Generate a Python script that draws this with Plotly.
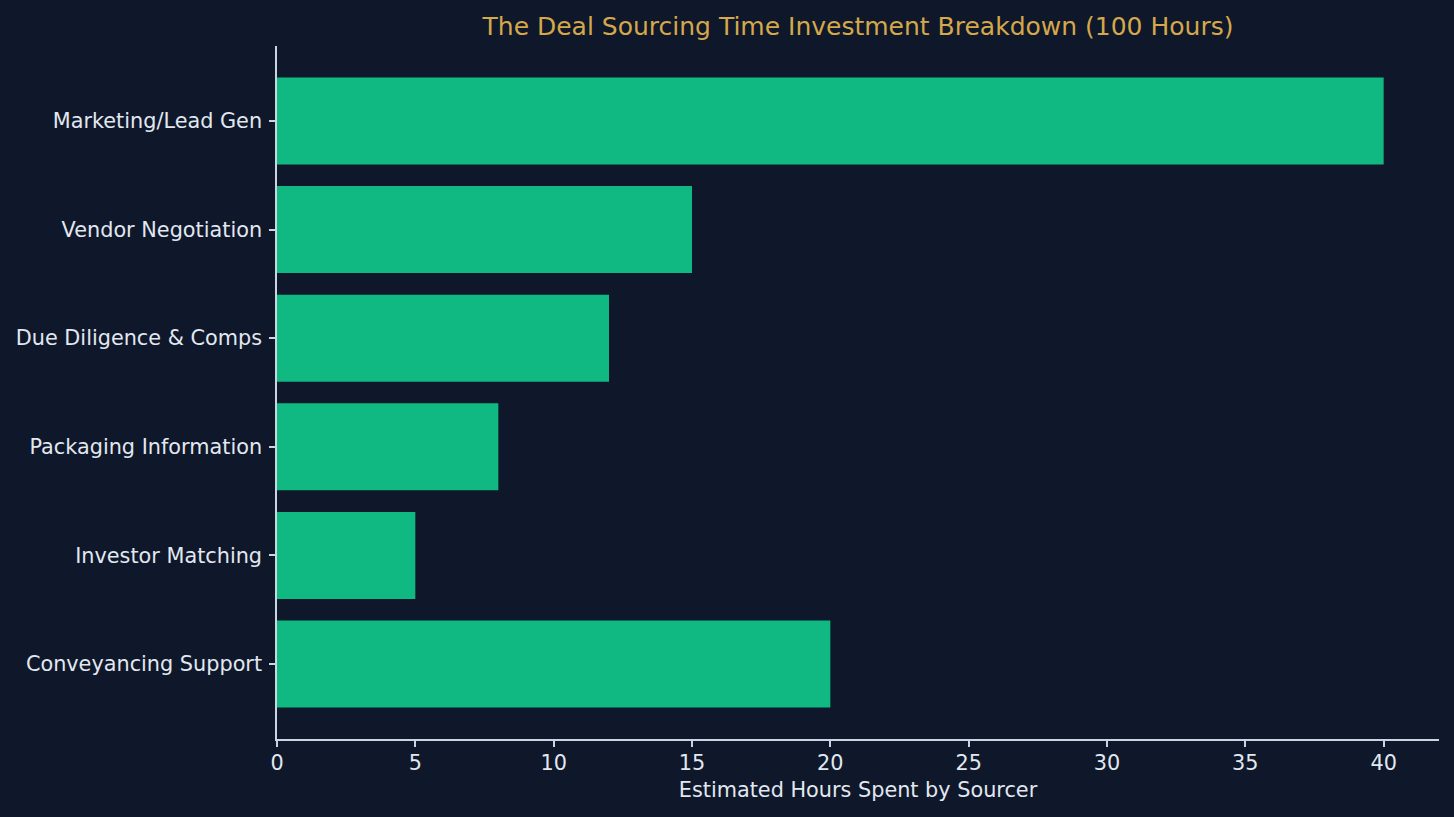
import plotly.graph_objects as go

categories = ["Marketing/Lead Gen", "Vendor Negotiation", "Due Diligence & Comps",
              "Packaging Information", "Investor Matching", "Conveyancing Support"]
hours = [40, 15, 12, 8, 5, 20]
x_ticks = [0, 5, 10, 15, 20, 25, 30, 35, 40]

BG = "#0f172a"
BAR = "#10b981"
TEXT = "#e2e8f0"
SPINE = "#cbd5e1"
GOLD = "#d4a84b"
FONT = "DejaVu Sans"

fig = go.Figure(go.Bar(
    y=categories, x=hours, orientation="h",
    marker=dict(color=BAR, line=dict(width=0)),
    width=0.8,
))

fig.update_layout(
    width=1454, height=817,
    paper_bgcolor=BG, plot_bgcolor=BG,
    margin=dict(l=277, r=15, t=46, b=78),
    font=dict(family=FONT, color=TEXT, size=20.8),
    showlegend=False,
    title=dict(text="The Deal Sourcing Time Investment Breakdown (100 Hours)",
               x=0.5, xref="paper", xanchor="center",
               y=1 - 26 / 817, yref="container", yanchor="middle",
               font=dict(family=FONT, color=GOLD, size=25)),
    bargap=0.2,
)

fig.update_xaxes(
    range=[0, 42], tickvals=x_ticks, ticktext=[str(v) for v in x_ticks],
    showgrid=False, zeroline=False,
    showline=True, linecolor=SPINE, linewidth=1.5,
    ticks="outside", ticklen=6, tickwidth=1.5, tickcolor=SPINE,
    ticklabelstandoff=-2,
    tickfont=dict(family=FONT, color=TEXT, size=20.8),
    title=dict(text="Estimated Hours Spent by Sourcer",
               font=dict(family=FONT, color=TEXT, size=20.8), standoff=9),
)
fig.update_yaxes(
    type="category", categoryorder="array", categoryarray=categories,
    range=[5.69, -0.69],
    showgrid=False, zeroline=False,
    showline=True, linecolor=SPINE, linewidth=1.5,
    ticks="outside", ticklen=6, tickwidth=1.5, tickcolor=SPINE,
    ticklabelstandoff=3,
    tickfont=dict(family=FONT, color=TEXT, size=20.8),
)

fig.write_html("out.html")
